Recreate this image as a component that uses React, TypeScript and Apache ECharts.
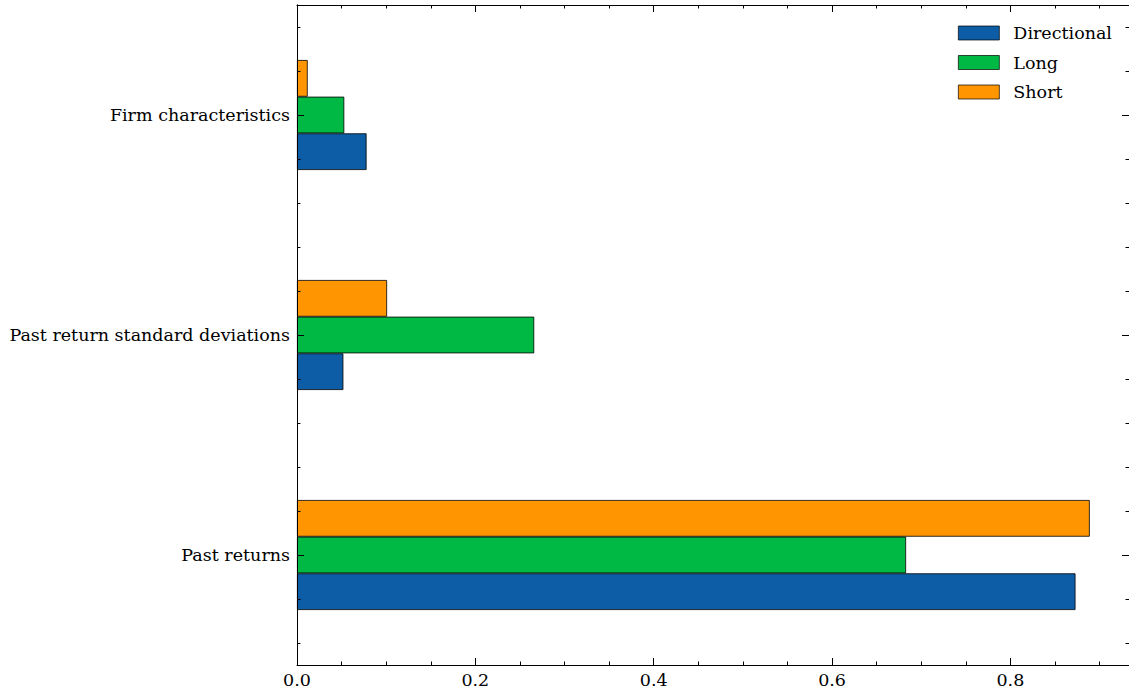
import React, { useEffect, useRef } from "react";
import * as echarts from "echarts";

const categories = ["Past returns", "Past return standard deviations", "Firm characteristics"];
const directional = [0.873, 0.052, 0.078];
const longVals = [0.683, 0.266, 0.053];
const shortVals = [0.889, 0.101, 0.012];
const seriesNames = ["Directional", "Long", "Short"];
const colors = ["#0C5DA5", "#00B945", "#FF9500"];
const xTicks = [0, 0.2, 0.4, 0.6, 0.8];
const minorCats = Array.from({ length: 15 }, (_, i) => "m" + i);

const FONT = "DejaVu Serif";

export default function App() {
  const ref = useRef<HTMLDivElement>(null);
  useEffect(() => {
    if (!ref.current) return;
    const chart = echarts.init(ref.current, undefined, { renderer: "svg" });
    const tickLine = { color: "#000", width: 1 };
    const labelY = (pos: string) => ({
      type: "category",
      data: categories,
      position: pos,
      z: 10,
      boundaryGap: true,
      axisLine: { show: true, lineStyle: tickLine },
      axisTick: { show: false },
      axisLabel: pos === "left"
        ? { show: true, margin: 7, color: "#000", fontFamily: FONT, fontSize: 17.5 }
        : { show: false },
      splitLine: { show: false },
    });
    const tickY = (pos: string, cats: string[], len: number) => ({
      type: "category",
      data: cats,
      position: pos,
      z: 10,
      boundaryGap: true,
      axisLine: { show: false },
      axisTick: { show: true, inside: true, alignWithLabel: true, interval: 0, length: len, lineStyle: tickLine },
      axisLabel: { show: false },
      splitLine: { show: false },
    });
    const xAx = (pos: string, labels: boolean) => ({
      type: "value",
      position: pos,
      z: 10,
      min: 0,
      max: 0.933,
      interval: 0.2,
      axisLine: { show: true, lineStyle: tickLine },
      axisTick: { show: true, inside: true, length: 7, lineStyle: tickLine },
      minorTick: { show: true, splitNumber: 4, length: 3.5, lineStyle: tickLine },
      axisLabel: labels
        ? {
            show: true,
            margin: 6,
            color: "#000",
            fontFamily: FONT,
            fontSize: 17.5,
            showMaxLabel: false,
            formatter: (v: number) => (xTicks.some((t) => Math.abs(t - v) < 1e-9) ? v.toFixed(1) : ""),
          }
        : { show: false },
      splitLine: { show: false },
      minorSplitLine: { show: false },
    });
    const valsByName: Record<string, number[]> = {
      Directional: directional,
      Long: longVals,
      Short: shortVals,
    };
    // drawing order: first series sits at the top of each band
    const drawOrder = [2, 1, 0];
    chart.setOption({
      animation: false,
      backgroundColor: "#fff",
      grid: { left: 297, right: 0, top: 5, bottom: 26, containLabel: false },
      legend: {
        orient: "vertical",
        left: 958,
        top: 24,
        padding: 0,
        icon: "rect",
        itemWidth: 41,
        itemHeight: 14,
        itemGap: 11.5,
        data: seriesNames,
        itemStyle: { borderWidth: 0.7 },
        textStyle: { color: "#000", fontFamily: FONT, fontSize: 17.5, padding: [0, 0, 0, 9] },
      },
      xAxis: [xAx("bottom", true), xAx("top", false)],
      // positions alternate once both sides are used: left, right, then flipped requests
      yAxis: [
        labelY("left"),
        labelY("right"),
        tickY("right", categories, 7), // -> left
        tickY("left", categories, 7), // -> right
        tickY("right", minorCats, 3.5), // -> left
        tickY("left", minorCats, 3.5), // -> right
      ],
      series: drawOrder.map((i) => ({
        name: seriesNames[i],
        type: "bar",
        xAxisIndex: 0,
        yAxisIndex: 0,
        data: valsByName[seriesNames[i]],
        barGap: "0%",
        barCategoryGap: "50%",
        itemStyle: { color: colors[i], borderColor: "#000", borderWidth: 0.8 },
      })),
    });
    return () => chart.dispose();
  }, []);
  return (
    <div
      ref={ref}
      style={{ position: "fixed", left: 0, top: 0, width: 1129, height: 691, background: "#fff" }}
    />
  );
}
